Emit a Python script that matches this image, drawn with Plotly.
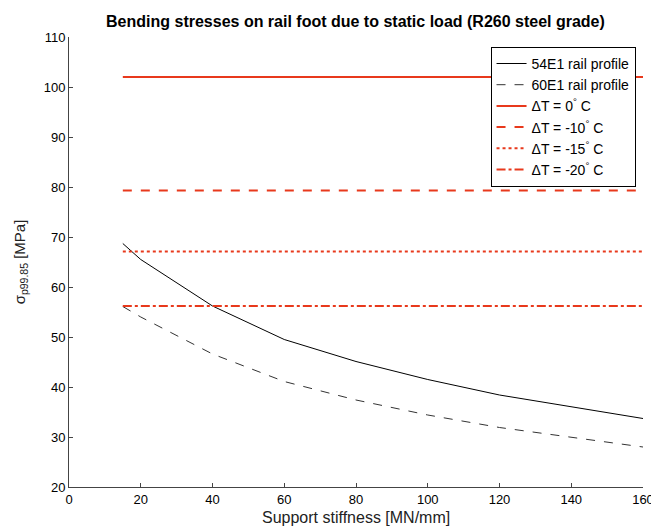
import plotly.graph_objects as go

stiffness = [15, 20, 40, 60, 80, 100, 120, 140, 160]
sigma_54e1 = [68.7, 65.5, 56.2, 49.5, 45.1, 41.5, 38.4, 36.1, 33.7]
sigma_60e1 = [56.1, 54.0, 46.6, 41.1, 37.4, 34.4, 31.9, 29.9, 28.0]

limit_x = [15, 160]
limit_names = ["ΔT = 0<sup>°</sup> C", "ΔT = -10<sup>°</sup> C", "ΔT = -15<sup>°</sup> C", "ΔT = -20<sup>°</sup> C"]
limit_values = [102.0, 79.3, 67.1, 56.2]
limit_dash = ["solid", "dash", "dot", "dashdot"]

red = "#e8391c"
font_family = "Arial, Liberation Sans"

fig = go.Figure()
fig.add_trace(go.Scatter(x=stiffness, y=sigma_54e1, mode="lines", name="54E1 rail profile",
                         line=dict(color="black", width=1)))
fig.add_trace(go.Scatter(x=stiffness, y=sigma_60e1, mode="lines", name="60E1 rail profile",
                         line=dict(color="#333333", width=1, dash="dash")))
for name, val, d in zip(limit_names, limit_values, limit_dash):
    fig.add_trace(go.Scatter(x=limit_x, y=[val, val], mode="lines", name=name,
                             line=dict(color=red, width=2, dash=d)))

axis_common = dict(showgrid=False, zeroline=False, showline=True, linecolor="#444444", linewidth=1,
                   ticks="inside", ticklen=4, tickcolor="#444444", automargin=False,
                   tickfont=dict(family=font_family, size=13, color="black"), mirror=False)

fig.update_layout(
    width=651, height=530,
    paper_bgcolor="white", plot_bgcolor="white",
    margin=dict(l=69, r=8, t=37, b=43),
    title=dict(text="<b>Bending stresses on rail foot due to static load (R260 steel grade)</b>",
               x=0.546, xanchor="center", y=0.96, yanchor="middle",
               font=dict(family=font_family, size=16, color="black")),
    xaxis=dict(range=[0, 160], dtick=20, ticklabeloverflow="allow", **axis_common),
    yaxis=dict(range=[20, 110], dtick=10,
               title=dict(text="σ<sub>p99.85</sub> [MPa]", standoff=14,
                          font=dict(family=font_family, size=15, color="#222222")), **axis_common),
    legend=dict(x=0.987, xanchor="right", y=0.978, yanchor="top", bgcolor="white",
                bordercolor="black", borderwidth=1,
                font=dict(family=font_family, size=14, color="black"),
                tracegroupgap=0, itemwidth=30),
    showlegend=True,
    annotations=[dict(text="Support stiffness [MN/mm]", xref="paper", yref="paper",
                      x=0.5, y=-0.067, xanchor="center", yanchor="middle", showarrow=False,
                      font=dict(family=font_family, size=16, color="#222222"))],
)

fig.write_html("out.html", config={"displayModeBar": False},
               post_script="document.body.style.margin='0';document.body.style.overflow='hidden';")
